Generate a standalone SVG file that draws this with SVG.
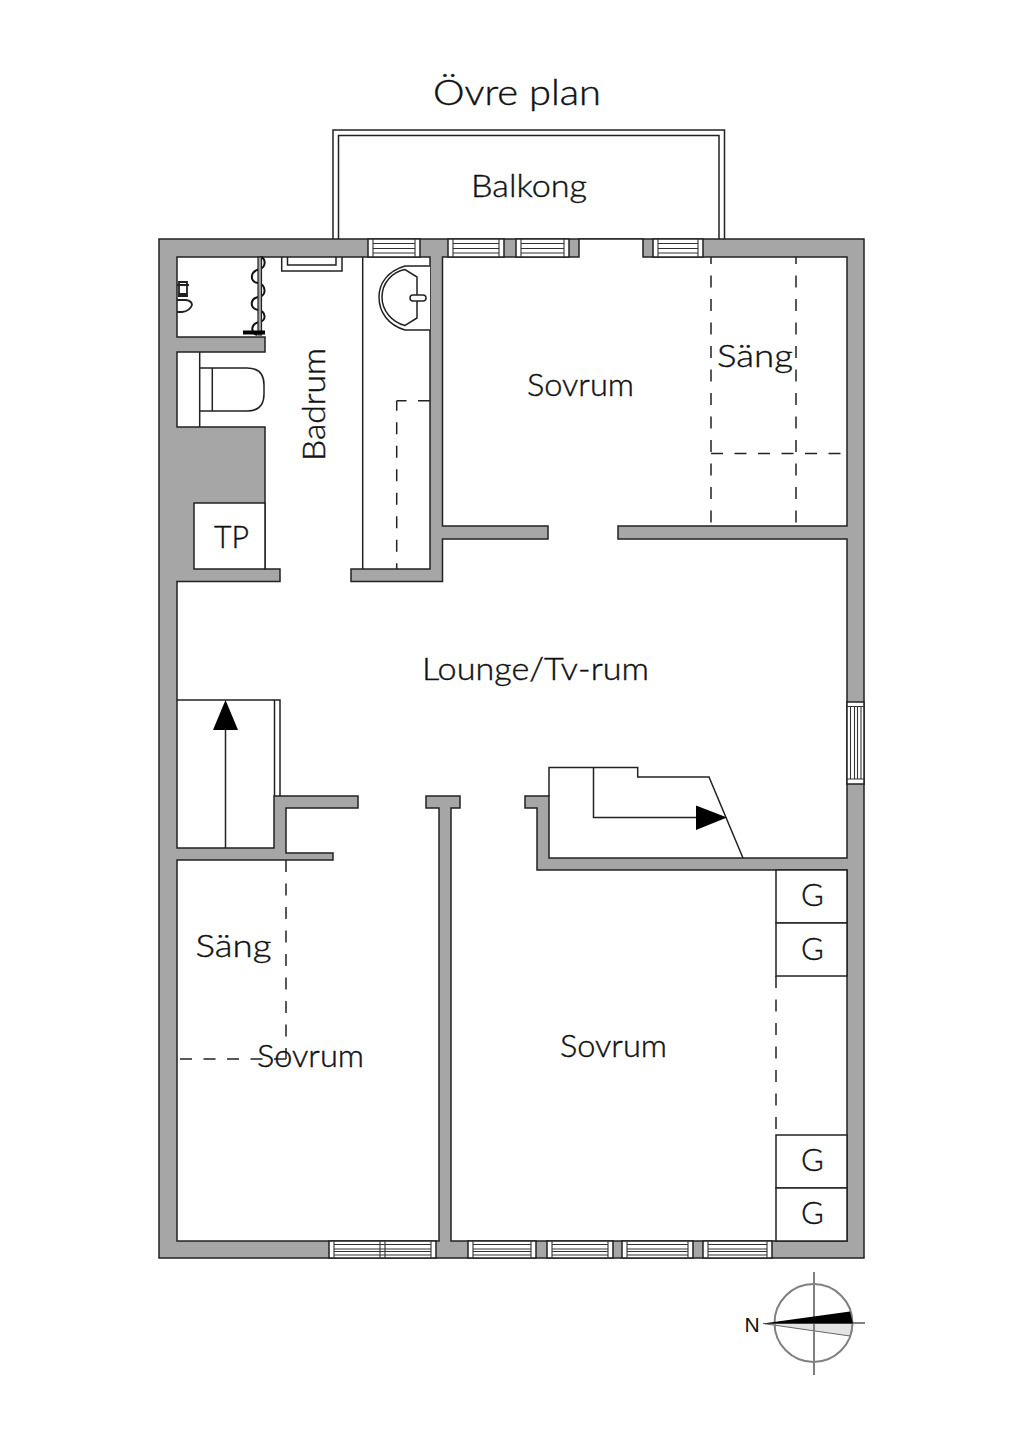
<svg xmlns="http://www.w3.org/2000/svg" width="1024" height="1448" viewBox="0 0 1024 1448">
<style>
.l{fill:none;stroke:#222;stroke-width:1.5}
.i{fill:none;stroke:#333;stroke-width:1.1}
.w{fill:#fff;stroke:#222;stroke-width:1.5}
.d{fill:none;stroke:#222;stroke-width:1.5;stroke-dasharray:12 11.5}
.t{font-family:"Lato","Liberation Sans",sans-serif;font-weight:300;font-size:31px;fill:#111;stroke:#111;stroke-width:.4;text-anchor:middle}
.k{fill:#000}
.g{fill:none;stroke:#808080;stroke-width:2}
</style>
<rect width="1024" height="1448" fill="#fff"/>
<text class="t" x="517" y="105" style="font-size:36px" textLength="168" lengthAdjust="spacingAndGlyphs">Övre plan</text>
<g id="balkong">
<path class="l" d="M333 239V130H724.500V239M338.500 239V135.500H719V239"/>
<text class="t" x="529" y="197" textLength="116" lengthAdjust="spacingAndGlyphs">Balkong</text>
</g>
<g id="walls">
<rect x="159" y="239" width="705" height="1019" fill="#a6a6a6" stroke="#222" stroke-width="1.500"/>
<path class="w" d="M177 257H430V569H351V581.500H442.500V539H548V526H442.500V257H579V239H643V257H847V526H618V539H847V858H549V796H525V808H537V870H847V1241H451V808H460V796H426V808H439V1241H177V860H333V853H286V808H358V796H274V848H177V581.500H280V569H265V427H177V352H265V337H177Z"/>
<rect class="w" x="194" y="503" width="71" height="66"/>
</g>
<g id="windows-top">
<path class="w" d="M368 239H420V257H368Z"/><path class="i" d="M373 239V257M415 239V257M373 243.500H415M373 248.500H415M373 253H415"/>
<path class="w" d="M448 239H504V257H448Z"/><path class="i" d="M453 239V257M499 239V257M453 243.500H499M453 248.500H499M453 253H499"/>
<path class="w" d="M516 239H569V257H516Z"/><path class="i" d="M521 239V257M564 239V257M521 243.500H564M521 248.500H564M521 253H564"/>
<path class="w" d="M653 239H703V257H653Z"/><path class="i" d="M658 239V257M698 239V257M658 243.500H698M658 248.500H698M658 253H698"/>
</g>
<g id="window-right">
<path class="w" d="M847 702H864V784H847Z"/><path class="i" d="M847 706.500H864M847 779H864M850.500 706.500V779M854.500 706.500V779M857.500 706.500V779M861 706.500V779"/>
</g>
<g id="windows-bottom">
<path class="w" d="M329 1241H436V1258H329Z"/><path class="i" d="M334 1241V1258M431 1241V1258M380 1241V1258M385 1241V1258M334 1244.500H431M334 1249H431M334 1251.500H431M334 1255H431"/>
<path class="w" d="M468 1241H536V1258H468Z"/><path class="i" d="M473 1241V1258M531 1241V1258M473 1244.500H531M473 1249H531M473 1251.500H531M473 1255H531"/>
<path class="w" d="M547 1241H613V1258H547Z"/><path class="i" d="M552 1241V1258M608 1241V1258M552 1244.500H608M552 1249H608M552 1251.500H608M552 1255H608"/>
<path class="w" d="M622 1241H693V1258H622Z"/><path class="i" d="M627 1241V1258M688 1241V1258M627 1244.500H688M627 1249H688M627 1251.500H688M627 1255H688"/>
<path class="w" d="M703 1241H772V1258H703Z"/><path class="i" d="M708 1241V1258M767 1241V1258M708 1244.500H767M708 1249H767M708 1251.500H767M708 1255H767"/>
</g>
<g id="badrum">
<path class="l" d="M362.700 257V569"/>
<path class="l" d="M281.700 257V271H342V257M287.500 257V265H336V257"/>
<path class="w" d="M430 266H405C388 271 379 283 379 297C379 312 388 325 405 330H430"/>
<path class="l" d="M417 277L405 269.500C392 272 382 283 382 297C382 311 392 322 405 325.500L417 318Z"/>
<rect class="w" x="410" y="295" width="16" height="6" rx="3"/>
<path class="d" stroke-dashoffset="2" d="M396.700 400.700V569"/>
<path class="d" d="M430 400.700H396.700"/>
<path class="l" d="M199.700 352V427"/>
<path class="l" d="M200 368H247Q264 368 264 385V394Q264 411 247 411H200M212.300 368V411"/>
<path d="M261 257C266 259 266 267 260 269C250 271 249 282 258 283C266 284 267 296 259 297C250 298 249 308 258 310C266 311 267 321 259 322C251 324 250 332 257 335" fill="none" stroke="#111" stroke-width="2"/>
<rect x="258" y="257" width="3.500" height="78" fill="#a6a6a6" stroke="#222" stroke-width="1.200"/>
<rect class="k" x="243" y="330.500" width="22" height="4"/>
<path d="M177 285H189M179 282H187V294H179ZM178 296H188M177 300H186Q192 301 192 305Q190 311 182 312H177" fill="none" stroke="#222" stroke-width="1.800"/>
<text class="t" transform="translate(325 404.500) rotate(-90)" textLength="113" lengthAdjust="spacingAndGlyphs">Badrum</text>
<text class="t" x="231.500" y="548" textLength="35" lengthAdjust="spacingAndGlyphs">TP</text>
</g>
<g id="sovrum-ovre">
<path class="d" stroke-dashoffset="5" d="M711 257V526M796 257V526"/>
<path class="d" d="M711 453.500H847"/>
<text class="t" x="580.500" y="396" textLength="107" lengthAdjust="spacingAndGlyphs">Sovrum</text>
<text class="t" x="755" y="367" textLength="76" lengthAdjust="spacingAndGlyphs">Säng</text>
</g>
<g id="lounge">
<text class="t" x="535.500" y="680" textLength="227" lengthAdjust="spacingAndGlyphs">Lounge/Tv-rum</text>
</g>
<g id="trappa-vanster">
<path class="l" d="M177 700H280V796M274.500 700V796"/>
<path class="l" d="M225.500 848V728"/>
<path class="k" d="M225.500 700L238 730H213Z"/>
</g>
<g id="trappa-hoger">
<path class="l" d="M549 796V767.500H637.700V777H709L743 858M593.500 767.500V817.500H698"/>
<path class="k" d="M696 805.500L727 817.500L696 830Z"/>
</g>
<g id="sovrum-vanster">
<path class="d" d="M286 860V1059M180 1059H286"/>
<text class="t" x="233.500" y="957" textLength="76" lengthAdjust="spacingAndGlyphs">Säng</text>
<text class="t" x="310.500" y="1067" textLength="107" lengthAdjust="spacingAndGlyphs">Sovrum</text>
</g>
<g id="sovrum-hoger">
<path class="d" d="M776 976V1135"/>
<rect class="w" x="776" y="870" width="71" height="53"/>
<rect class="w" x="776" y="923" width="71" height="53"/>
<rect class="w" x="776" y="1135" width="71" height="53"/>
<rect class="w" x="776" y="1188" width="71" height="53"/>
<text class="t" x="812.500" y="906">G</text>
<text class="t" x="812.500" y="960">G</text>
<text class="t" x="812.500" y="1171">G</text>
<text class="t" x="812.500" y="1224">G</text>
<text class="t" x="613.500" y="1057" textLength="107" lengthAdjust="spacingAndGlyphs">Sovrum</text>
</g>
<g id="kompass">
<path d="M763 1323.500L850 1336L853 1323Z" fill="#e4e4e4" stroke="#666" stroke-width="1"/>
<circle class="g" cx="813.500" cy="1323" r="39"/>
<path class="g" d="M814 1272V1375M814 1323H865"/>
<path class="k" d="M763 1323.500L850 1311.500L853 1323.500Z"/>
<text x="752" y="1332" style="font-family:'Liberation Sans',sans-serif;font-size:21px;fill:#111;text-anchor:middle">N</text>
</g>
</svg>
